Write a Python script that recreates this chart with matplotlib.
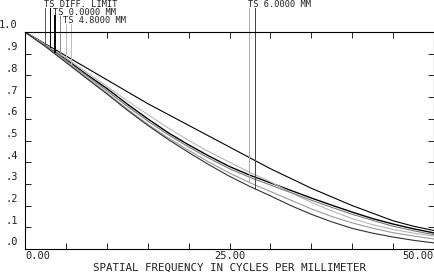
import matplotlib
matplotlib.use("Agg")
import matplotlib.pyplot as plt
import numpy as np

# spatial frequency samples (cycles/mm)
freq = [0, 2.5, 5, 7.5, 10, 12.5, 15, 17.5, 20, 22.5, 25,
        27.5, 30, 32.5, 35, 37.5, 40, 42.5, 45, 47.5, 50]

# MTF values
diff_limit = [1.0, 0.945, 0.89, 0.835, 0.78, 0.725, 0.67, 0.62, 0.57, 0.52, 0.47,
              0.42, 0.37, 0.325, 0.28, 0.24, 0.20, 0.165, 0.13, 0.105, 0.085]
f00_ts = [1.0, 0.94, 0.875, 0.805, 0.74, 0.668, 0.60, 0.536, 0.48, 0.428, 0.38,
          0.34, 0.305, 0.27, 0.235, 0.202, 0.17, 0.14, 0.115, 0.093, 0.074]
f48_t = [1.0, 0.942, 0.88, 0.815, 0.75, 0.683, 0.62, 0.558, 0.50, 0.448, 0.40,
         0.353, 0.31, 0.26, 0.215, 0.175, 0.14, 0.112, 0.09, 0.073, 0.06]
f48_s = [1.0, 0.937, 0.87, 0.80, 0.73, 0.658, 0.59, 0.527, 0.47, 0.418, 0.37,
         0.33, 0.295, 0.26, 0.225, 0.192, 0.16, 0.132, 0.105, 0.084, 0.066]
f60_t = [1.0, 0.935, 0.865, 0.792, 0.72, 0.645, 0.575, 0.512, 0.455, 0.40, 0.35,
         0.305, 0.265, 0.225, 0.185, 0.15, 0.12, 0.096, 0.075, 0.06, 0.046]
f60_s = [1.0, 0.933, 0.86, 0.787, 0.715, 0.64, 0.57, 0.505, 0.445, 0.388, 0.335,
         0.288, 0.245, 0.20, 0.16, 0.125, 0.095, 0.073, 0.055, 0.04, 0.028]

curves = [
    (diff_limit, "black", 0.8),
    (f00_ts, "black", 1.0),
    (f48_t, "#b8b8b8", 0.8),
    (f48_s, "#7a7a7a", 0.8),
    (f60_t, "#9a9a9a", 0.8),
    (f60_s, "#303030", 0.8),
]

mono = "DejaVu Sans Mono"
tcol = "#222222"

fig = plt.figure(figsize=(4.35, 2.72), dpi=100)
ax = fig.add_axes([25/435, 23/272, 409/435, 217/272])

for vals, col, lw in curves:
    ax.plot(freq, vals, color=col, lw=lw)

ax.set_xlim(0, 50)
ax.set_ylim(0, 1)
ax.set_xticks(np.arange(0, 51, 5))
ax.set_yticks(np.arange(0, 1.01, 0.1))
ax.tick_params(direction="in", length=4, width=0.6, top=True, right=True,
               labelleft=False, labelbottom=False)
for s in ax.spines.values():
    s.set_linewidth(0.8)

# y tick labels sit a little above the ticks
ylabs = ["1.0", ".9", ".8", ".7", ".6", ".5", ".4", ".3", ".2", ".1", ".0"]
for i, lab in enumerate(ylabs):
    v = 1.0 - i * 0.1
    ax.text(-0.9, v + 0.03, lab, ha="right", va="center", fontsize=7.5,
            family=mono, color=tcol, clip_on=False)

ax.text(0, -0.034, "0.00", ha="left", va="center", fontsize=7.5, family=mono,
        color=tcol)
ax.text(25, -0.034, "25.00", ha="center", va="center", fontsize=7.5, family=mono,
        color=tcol)
ax.text(50, -0.034, "50.00", ha="right", va="center", fontsize=7.5, family=mono,
        color=tcol)
ax.text(25, -0.088, "SPATIAL FREQUENCY IN CYCLES PER MILLIMETER", ha="center",
        va="center", fontsize=7.8, family=mono, color=tcol)

# field labels with leader lines
labels = [
    ("TS DIFF. LIMIT", 2.32, 1.129, [(2.45, diff_limit, "#555555"), (3.06, diff_limit, "black")]),
    ("TS 0.0000 MM", 3.42, 1.092, [(3.67, f00_ts, "black"), (4.28, f00_ts, "#888888")]),
    ("TS 4.8000 MM", 4.65, 1.055, [(5.01, f48_t, "#bbbbbb"), (5.62, f48_s, "#bbbbbb")]),
    ("TS 6.0000 MM", 27.26, 1.129, [(27.4, f60_t, "#aaaaaa"), (28.1, f60_s, "#444444")]),
]
for txt, x0, y0, leads in labels:
    ax.text(x0, y0, txt, ha="left", va="center", fontsize=6.2, family=mono,
            color=tcol, clip_on=False)
    for lx, vals, col in leads:
        yb = np.interp(lx, freq, vals)
        lw = 1.4 if col == "black" and txt.startswith("TS 0") else 0.7
        ax.plot([lx, lx], [yb, y0 - 0.02], color=col, lw=lw, clip_on=False)

fig.savefig("out.png", dpi=100)
